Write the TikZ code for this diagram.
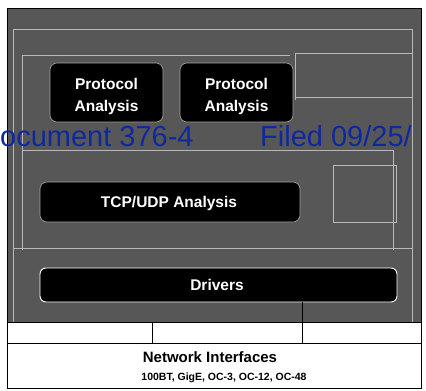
\documentclass[tikz,border=0pt]{standalone}
\usepackage{fontspec}
\setmainfont{Liberation Sans}
\begin{document}
\begin{tikzpicture}[x=1pt,y=-1pt,
  panel/.style={fill=black!66,draw=black,line width=0.8pt},
  faint/.style={draw=black!28,line width=0.7pt},
  blackbox/.style={fill=black,draw=black!35,line width=0.6pt,rounded corners=7pt},
  wlabel/.style={text=white,font=\fontsize{15.5}{22}\selectfont\bfseries,align=center},
  blabel/.style={text=black,font=\fontsize{15}{18}\selectfont\bfseries,align=center},
  slabel/.style={text=black,font=\fontsize{10.5}{12}\selectfont\bfseries,align=center},
  stamp/.style={text={rgb,255:red,15;green,40;blue,160},font=\fontsize{29}{30}\selectfont,inner sep=0pt,anchor=base west}]
\useasboundingbox (0,0) rectangle (426,391);
\fill[white] (0,0) rectangle (426,391);
\begin{scope}
\clip (0,0) rectangle (426,391);
% gray panel
\path[panel] (7,8) rectangle (421,322);
% faint nested panel lines
\draw[faint] (13,322) -- (13,29) -- (412,29) -- (412,322);
\draw[faint] (22,250) -- (22,55) -- (290,55);
\draw[faint] (295,100) -- (295,53) -- (412,53);
\draw[faint] (295,97) -- (412,97);
\draw[faint] (22,150) -- (393,150) -- (393,250);
\draw[faint] (333,222) -- (333,165) -- (396,165) -- (396,222) -- cycle;
\draw[faint] (13,248) -- (412,248);
% protocol boxes
\node[blackbox,minimum width=113pt,minimum height=59pt] (pa1) at (106.5,92.5) {};
\node[wlabel] (pa1t) at (106.5,96) {Protocol\\Analysis};
\node[blackbox,minimum width=113pt,minimum height=59pt] (pa2) at (236.5,92.5) {};
\node[wlabel] (pa2t) at (236.5,96) {Protocol\\Analysis};
% TCP/UDP
\node[blackbox,minimum width=260pt,minimum height=40pt] (tcp) at (170,202) {};
\node[wlabel] (tcpt) at (169,203) {TCP/UDP Analysis};
% Drivers
\node[blackbox,draw=white!85,line width=0.9pt,minimum width=357pt,minimum height=34pt,rounded corners=6pt] (drv) at (218.5,285) {};
\node[wlabel] (drvt) at (217,285) {Drivers};
% bottom white rows
\draw[black,line width=0.8pt] (7,322) rectangle (421,388);
\draw[black,line width=0.8pt] (7,343) -- (421,343);
\coordinate (d1t) at (152,322);
\coordinate (d1b) at (152,343);
\coordinate (d2t) at (302,302);
\coordinate (d2b) at (302,343);
\draw[black,line width=0.8pt] (d1t) -- (d1b);
\draw[black,line width=0.8pt] (d2t) -- (d2b);
\node[blabel] (ni) at (210,357) {Network Interfaces};
\node[slabel] (nis) at (224,378) {100BT, GigE, OC-3, OC-12, OC-48};
% scan stamp
\node[stamp] (st1) at (0,146) {ocument 376-4};
\node[stamp] (st2) at (260,146) {Filed 09/25/};
\end{scope}
\end{tikzpicture}
\end{document}
